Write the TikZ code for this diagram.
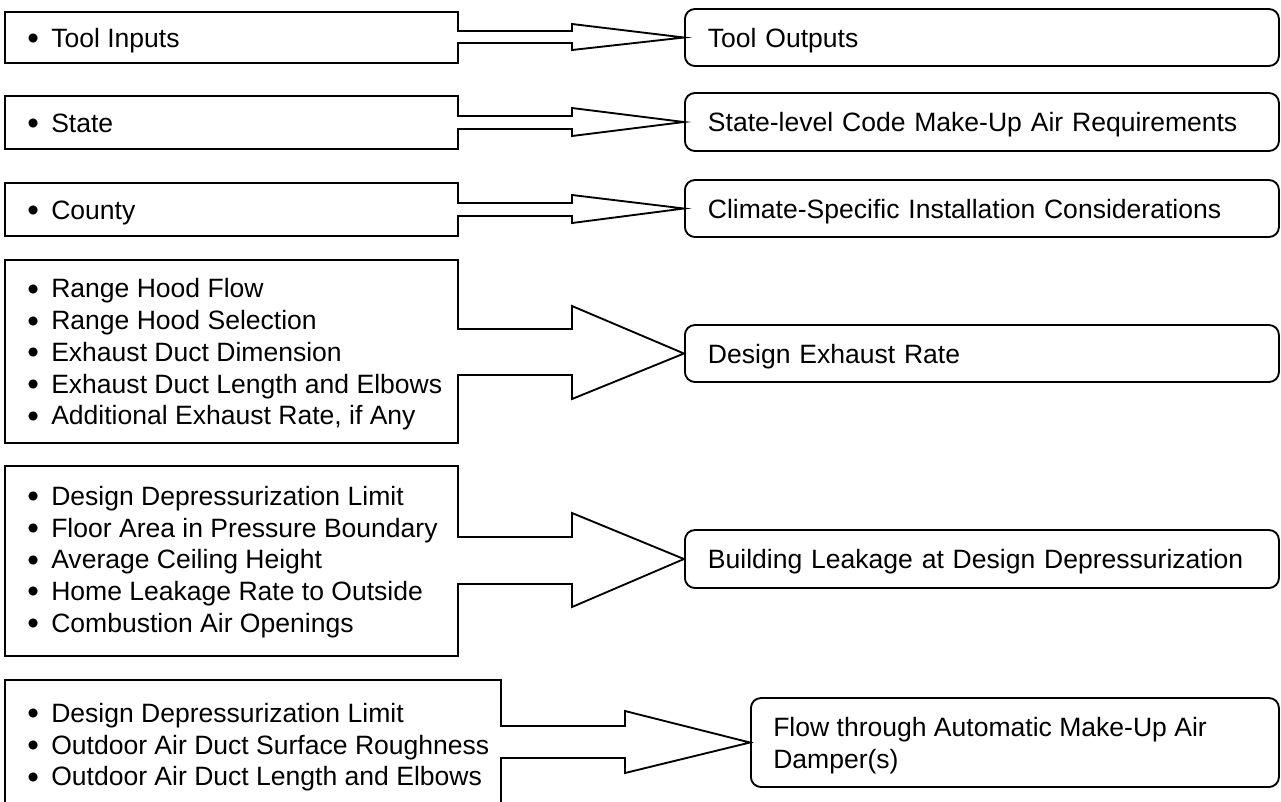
\documentclass[tikz,border=0pt]{standalone}
\usepackage{fontspec}
\usepackage{graphicx}
\setmainfont{Liberation Sans}
\newcommand\bul{\makebox[18pt][l]{\raisebox{-1.8pt}{\scalebox{1.25}{\textbullet}}}}
\newcommand\topstrut{\rule{0pt}{16pt}}
\begin{document}
\begin{tikzpicture}[x=0.75pt,y=-0.75pt,
  every node/.style={font=\fontsize{19.9}{23.8}\selectfont},
  callout/.style={draw, line width=1.4pt, line join=miter},
  outbox/.style={draw, line width=1.4pt, rounded corners=7.5pt, anchor=west,
    minimum width=594*0.75pt, text width=548*0.75pt, align=left,
    inner xsep=23*0.75pt, inner ysep=0pt, text height=14.25pt, text depth=0pt},
  intext/.style={anchor=north west, align=left, inner sep=0pt}]
\useasboundingbox (0,0) rectangle (1281,801);

% output boxes
\node[outbox, minimum height=57*0.75pt] (o1) at (684,37.5) {Tool Outputs};
\node[outbox, minimum height=58*0.75pt] (o2) at (684,122) {State-level Code Make-Up Air Requirements};
\node[outbox, minimum height=57*0.75pt] (o3) at (684,208.5) {Climate-Specific Installation Considerations};
\node[outbox, minimum height=57*0.75pt] (o4) at (684,353.5) {Design Exhaust Rate};
\node[outbox, minimum height=58*0.75pt] (o5) at (684,559) {Building Leakage at Design Depressurization};
\node[draw, line width=1.4pt, rounded corners=7.5pt, anchor=west, minimum width=528*0.75pt,
  minimum height=89*0.75pt, inner sep=0pt] (o6) at (750,742.5) {};
\node[intext] (t6) at (773,714.67) {\topstrut Flow through Automatic Make-Up Air\\Damper(s)};

% input callouts
\draw[callout] (5,12) -- (458,12) -- (458,31) -- (572,31) -- (572,24) -- (o1.west)
  -- (572,50) -- (572,43) -- (458,43) -- (458,63) -- (5,63) -- cycle;
\draw[callout] (5,96) -- (458,96) -- (458,116) -- (572,116) -- (572,108) -- (o2.west)
  -- (572,136) -- (572,129) -- (458,129) -- (458,149) -- (5,149) -- cycle;
\draw[callout] (5,183) -- (458,183) -- (458,203) -- (572,203) -- (572,195) -- (o3.west)
  -- (572,223) -- (572,216) -- (458,216) -- (458,236) -- (5,236) -- cycle;
\draw[callout] (5,260) -- (458,260) -- (458,329) -- (572,329) -- (572,306) -- (o4.west)
  -- (572,399) -- (572,375) -- (458,375) -- (458,443) -- (5,443) -- cycle;
\draw[callout] (5,466) -- (458,466) -- (458,537) -- (572,537) -- (572,513) -- (o5.west)
  -- (572,607) -- (572,584) -- (458,584) -- (458,656) -- (5,656) -- cycle;
\draw[callout] (5,680) -- (501,680) -- (501,726) -- (625,726) -- (625,711) -- (o6.west)
  -- (625,773) -- (625,758) -- (501,758) -- (501,806) -- (5,806) -- cycle;

% input texts
\node[intext] (i1) at (27,25.67) {\topstrut\bul Tool Inputs};
\node[intext] (i2) at (27,110.67) {\topstrut\bul State};
\node[intext] (i3) at (27,197.67) {\topstrut\bul County};
\node[intext] (i4) at (27,276.3) {\topstrut\bul Range Hood Flow\\
  \bul Range Hood Selection\\
  \bul Exhaust Duct Dimension\\
  \bul Exhaust Duct Length and Elbows\\
  \bul Additional Exhaust Rate, if Any};
\node[intext] (i5) at (27,483.7) {\topstrut\bul Design Depressurization Limit\\
  \bul Floor Area in Pressure Boundary\\
  \bul Average Ceiling Height\\
  \bul Home Leakage Rate to Outside\\
  \bul Combustion Air Openings};
\node[intext] (i6) at (27,700.7) {\topstrut\bul Design Depressurization Limit\\
  \bul Outdoor Air Duct Surface Roughness\\
  \bul Outdoor Air Duct Length and Elbows};
\end{tikzpicture}
\end{document}
